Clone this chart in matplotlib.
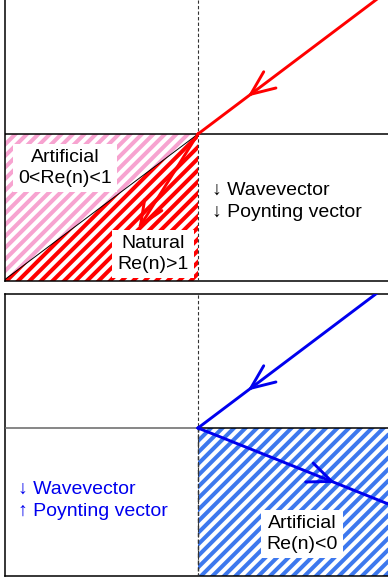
import numpy as np
import matplotlib
matplotlib.use('Agg')
import matplotlib.pyplot as plt
from matplotlib.patches import Polygon

plt.rcParams['font.family'] = ['Liberation Sans', 'DejaVu Sans']

# Physical parameters of the two scenes
theta_inc_deg = 53.0          # angle of incidence from the normal
n_natural = 1.5               # natural medium, Re(n) > 1
n_negative = -0.86            # artificial medium, Re(n) < 0

# Ray lengths / chevron positions (scene units = pixels)
incident_len = 260
refr_natural_len = 108
refr_negative_len = 260
chevron_inc_pos = 66
chevron_neg_pos = 144

labels_top = ['Artificial\n0<Re(n)<1', 'Natural\nRe(n)>1', '\u2193 Wavevector\n\u2193 Poynting vector']
labels_bottom = ['\u2193 Wavevector\n\u2191 Poynting vector', 'Artificial\nRe(n)<0']

RED = '#ff0000'
PINK = '#f7a3d0'
BLUE_RAY = '#0000ee'
BLUE_HATCH = '#3d78ee'

W, H = 388, 577
X0, X1 = -193, 195


def stripes(ax, poly, color, period=11.5, lw=2.9):
    # diagonal "/" stripes clipped to a polygon
    patch = Polygon(poly, closed=True, facecolor='white', edgecolor='none', zorder=1)
    ax.add_patch(patch)
    for c in np.arange(-700, 700, period):
        ln, = ax.plot([-400, 400], [-400 - c, 400 - c], color=color, lw=lw,
                      solid_capstyle='butt', zorder=2)
        ln.set_clip_path(patch)


def chevron(ax, vertex, direction, color, length=26, half=23, lw=2.1):
    d = np.asarray(direction, float)
    d = d / np.hypot(*d)
    back = -d
    for s in (-1, 1):
        a = np.radians(s * half)
        r = np.array([back[0] * np.cos(a) - back[1] * np.sin(a),
                      back[0] * np.sin(a) + back[1] * np.cos(a)])
        p = vertex + length * r
        ax.plot([vertex[0], p[0]], [vertex[1], p[1]], color=color, lw=lw,
                solid_capstyle='round', zorder=5)


def setup(ax, ylo, yhi, top_spine):
    ax.set_xlim(X0, X1)
    ax.set_ylim(ylo, yhi)
    ax.set_xticks([])
    ax.set_yticks([])
    ax.spines['right'].set_visible(False)
    ax.spines['top'].set_visible(top_spine)
    for s in ax.spines.values():
        s.set_linewidth(1.1)
    ax.axvline(0, color='#333333', lw=0.8, ls=(0, (3, 2)), zorder=3)


fig = plt.figure(figsize=(W / 100, H / 100), dpi=100)
ax1 = fig.add_axes([5 / W, (H - 281) / H, 1.0, 281 / H])
ax2 = fig.add_axes([5 / W, 1 / H, 1.0, 282 / H])
setup(ax1, -147, 134, False)
setup(ax2, -148, 134, True)

th_i = np.radians(theta_inc_deg)
u_inc = np.array([np.sin(th_i), np.cos(th_i)])     # from interface towards source
origin = np.array([0.0, 0.0])

# ---------------- top panel ----------------
t_edge = -X0 / np.sin(th_i)
y_edge = -t_edge * np.cos(th_i)
stripes(ax1, [(X0, 0), (0, 0), (X0, y_edge)], PINK)
stripes(ax1, [(0, 0), (0, -147), (X0, -147), (X0, y_edge)], RED)
ax1.plot([0, X0], [0, y_edge], color='black', lw=0.7, zorder=3)
ax1.axhline(0, color='black', lw=1.1, zorder=3)

th_t = np.arcsin(np.sin(th_i) / n_natural)
u_t = np.array([-np.sin(th_t), -np.cos(th_t)])
p_src = origin + incident_len * u_inc
ax1.plot([p_src[0], 0], [p_src[1], 0], color=RED, lw=2.1, zorder=5)
chevron(ax1, origin + chevron_inc_pos * u_inc, -u_inc, RED)
p_end = origin + refr_natural_len * u_t
ax1.plot([0, p_end[0]], [0, p_end[1]], color=RED, lw=2.1, zorder=5)
chevron(ax1, p_end, u_t, RED)

box = dict(boxstyle='square,pad=0.25', facecolor='white', edgecolor='none')
ax1.text(-133, -34, labels_top[0], fontsize=14, ha='center', va='center',
         linespacing=1.3, bbox=box, zorder=4)
ax1.text(-45, -120, labels_top[1], fontsize=14, ha='center', va='center',
         linespacing=1.3, bbox=box, zorder=4)
ax1.text(14, -67, labels_top[2], fontsize=14, ha='left', va='center',
         linespacing=1.4, zorder=4)

# ---------------- bottom panel ----------------
stripes(ax2, [(0, 0), (400, 0), (400, -148), (0, -148)], BLUE_HATCH)
ax2.plot([X0, 0], [0, 0], color='#666666', lw=1.1, zorder=3)
ax2.plot([0, 400], [0, 0], color='black', lw=1.1, zorder=3)
ax2.plot([0, 0], [0, -148], color='#333333', lw=1.0, ls=(0, (3, 2)), zorder=3)

th_n = np.arcsin(np.sin(th_i) / abs(n_negative))
u_n = np.array([np.sin(th_n), -np.cos(th_n)])
ax2.plot([p_src[0], 0], [p_src[1], 0], color=BLUE_RAY, lw=2.1, zorder=5)
chevron(ax2, origin + chevron_inc_pos * u_inc, -u_inc, BLUE_RAY)
p_end2 = origin + refr_negative_len * u_n
ax2.plot([0, p_end2[0]], [0, p_end2[1]], color=BLUE_RAY, lw=2.1, zorder=5)
chevron(ax2, origin + chevron_neg_pos * u_n, u_n, BLUE_RAY)

ax2.text(-180, -72, labels_bottom[0], fontsize=14, ha='left', va='center',
         linespacing=1.4, color=BLUE_RAY, zorder=4)
ax2.text(104, -106, labels_bottom[1], fontsize=14, ha='center', va='center',
         linespacing=1.3, bbox=box, zorder=4)

fig.savefig('out.png', dpi=100)
